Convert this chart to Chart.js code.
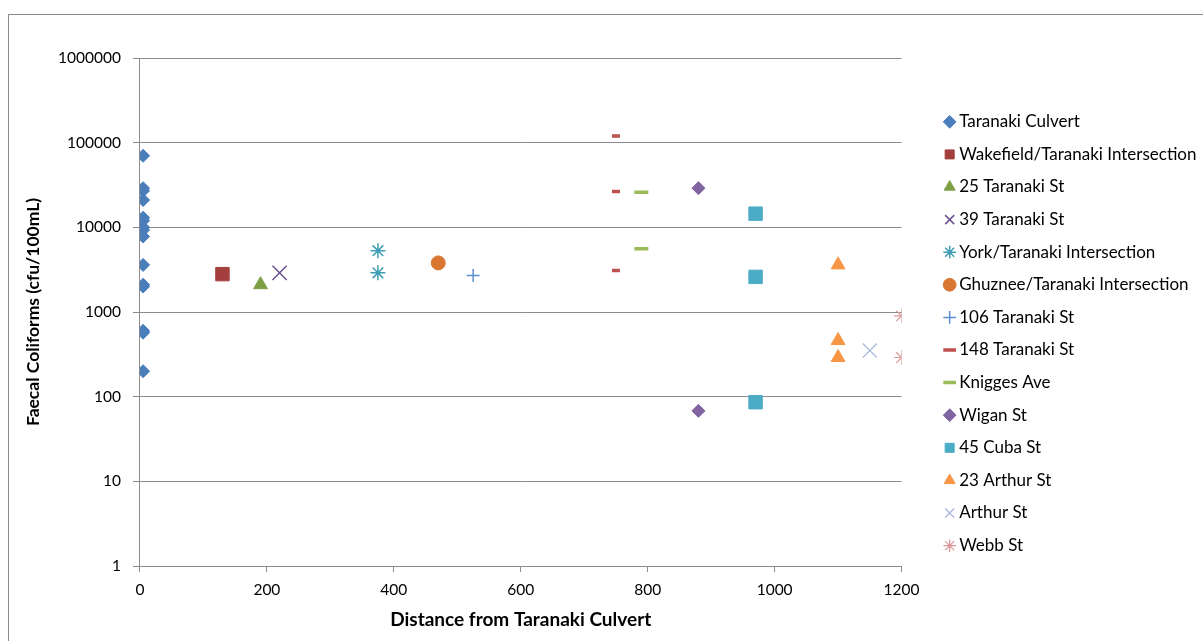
<!DOCTYPE html>
<html>
<head>
<meta charset="utf-8">
<script src="https://cdn.jsdelivr.net/npm/chart.js@4/dist/chart.umd.min.js"></script>
<style>
  html, body { margin: 0; padding: 0; background: #fff; overflow: hidden; }
  #frame { position: absolute; left: 8px; top: 14px; width: 1200px; height: 640px; border: 1px solid #8c8c8c; }
  #wrap { position: absolute; left: 0; top: 0; width: 1203px; height: 641px; }
</style>
</head>
<body>
<div id="frame"></div>
<div id="wrap"><canvas id="coliformChart" width="1203" height="641"></canvas></div>
<script>
// sampling sites along Taranaki St and their distance from the culvert
var sites = ['Taranaki Culvert', 'Wakefield/Taranaki Intersection', '25 Taranaki St', '39 Taranaki St',
  'York/Taranaki Intersection', 'Ghuznee/Taranaki Intersection', '106 Taranaki St', '148 Taranaki St',
  'Knigges Ave', 'Wigan St', '45 Cuba St', '23 Arthur St', 'Arthur St', 'Webb St'];
var distances = [5, 130, 190, 220, 375, 470, 525, 750, 790, 880, 970, 1100, 1150, 1200];

// faecal coliform counts (cfu/100mL) per site
var culvertCounts = [70000, 29000, 27000, 21000, 13000, 12000, 10000, 9300, 7800, 3600, 2100, 2000, 600, 570, 200];
var wakefieldCounts = [2800];
var taranaki25Counts = [2100];
var taranaki39Counts = [2900];
var yorkCounts = [5300, 2900];
var ghuzneeCounts = [3800];
var taranaki106Counts = [2700];
var taranaki148Counts = [120000, 26500, 3100];
var kniggesCounts = [26000, 5600];
var wiganCounts = [29000, 68];
var cubaCounts = [14500, 2600, 86];
var arthur23Counts = [3600, 460, 290];
var arthurCounts = [350];
var webbCounts = [900, 290];

var allCounts = [culvertCounts, wakefieldCounts, taranaki25Counts, taranaki39Counts, yorkCounts,
  ghuzneeCounts, taranaki106Counts, taranaki148Counts, kniggesCounts, wiganCounts, cubaCounts,
  arthur23Counts, arthurCounts, webbCounts];

var yTicks = [1, 10, 100, 1000, 10000, 100000, 1000000];
var xTicks = [0, 200, 400, 600, 800, 1000, 1200];

// marker look for each series, Excel style
var markers = [
  { style: 'rectRot', color: '#4A7EBB', r: 6.5, w: 1 },
  { style: 'rect', color: '#A33F3C', r: 9.5, w: 1 },
  { style: 'triangle', color: '#7F9F45', r: 8, w: 1 },
  { style: 'crossRot', color: '#6A5290', r: 10, w: 1.5 },
  { style: 'star', color: '#3E9DB5', r: 7.5, w: 1.5 },
  { style: 'circle', color: '#D97732', r: 7, w: 1 },
  { style: 'cross', color: '#5B8FD0', r: 6.5, w: 1.5 },
  { style: 'line', color: '#C0504D', r: 4, w: 3.5 },
  { style: 'line', color: '#9BBB59', r: 7, w: 3.5 },
  { style: 'rectRot', color: '#8064A2', r: 6.5, w: 1 },
  { style: 'rect', color: '#4BACC6', r: 9.5, w: 1 },
  { style: 'triangle', color: '#F79646', r: 8, w: 1 },
  { style: 'crossRot', color: '#A5B6DA', r: 10, w: 1.2 },
  { style: 'star', color: '#D99795', r: 7.5, w: 1.2 }
];

var datasets = sites.map(function (name, i) {
  var m = markers[i];
  return {
    label: name,
    data: allCounts[i].map(function (v) { return { x: distances[i], y: v }; }),
    pointStyle: m.style,
    pointRadius: m.r,
    pointHoverRadius: m.r,
    pointBorderWidth: m.w,
    backgroundColor: m.color,
    borderColor: m.color,
    showLine: false
  };
});

// keep a gap between plot and legend, like the Excel layout
var legendShift = {
  id: 'legendShift',
  afterLayout: function (chart) {
    var lg = chart.legend;
    if (!lg) return;
    lg.left += 31.5; lg.right += 31.5;
    lg.top -= 11; lg.bottom -= 11;
  }
};

var gridGray = '#8c8c8c';
var ctx = document.getElementById('coliformChart');
var coliformChart = new Chart(ctx, {
  type: 'scatter',
  data: { datasets: datasets },
  plugins: [legendShift],
  options: {
    responsive: false,
    animation: false,
    layout: { padding: { left: 19, top: 58, right: 28, bottom: 9.6 } },
    plugins: {
      tooltip: { enabled: false },
      legend: {
        position: 'right',
        align: 'center',
        labels: {
          usePointStyle: true,
          boxWidth: 2,
          boxHeight: 9,
          padding: 15.6,
          color: '#000',
          font: { family: 'Lato', size: 17 }
        }
      }
    },
    scales: {
      x: {
        type: 'linear',
        min: 0,
        max: 1200,
        afterBuildTicks: function (axis) {
          axis.ticks = xTicks.map(function (v) { return { value: v }; });
        },
        grid: { drawOnChartArea: false, drawTicks: true, tickLength: 6, color: gridGray },
        border: { color: gridGray },
        ticks: {
          color: '#000',
          padding: 9,
          maxRotation: 0,
          font: { family: 'Lato', size: 15.5 },
          callback: function (v) { return String(v); }
        },
        title: {
          display: true,
          text: 'Distance from Taranaki Culvert',
          color: '#000',
          padding: { top: 0, bottom: 0 },
          font: { family: 'Lato', size: 19, weight: 'bold' }
        }
      },
      y: {
        type: 'logarithmic',
        min: 1,
        max: 1000000,
        afterBuildTicks: function (axis) {
          axis.ticks = yTicks.map(function (v) { return { value: v }; });
        },
        grid: { drawTicks: true, tickLength: 7, color: gridGray },
        border: { color: gridGray },
        ticks: {
          color: '#000',
          padding: 12,
          font: { family: 'Lato', size: 15.5 },
          callback: function (v) { return String(v); }
        },
        title: {
          display: true,
          text: 'Faecal Coliforms (cfu/100mL)',
          color: '#000',
          padding: { top: 4, bottom: 2 },
          font: { family: 'Lato', size: 17.5, weight: 'bold' }
        }
      }
    }
  }
});
</script>
</body>
</html>
